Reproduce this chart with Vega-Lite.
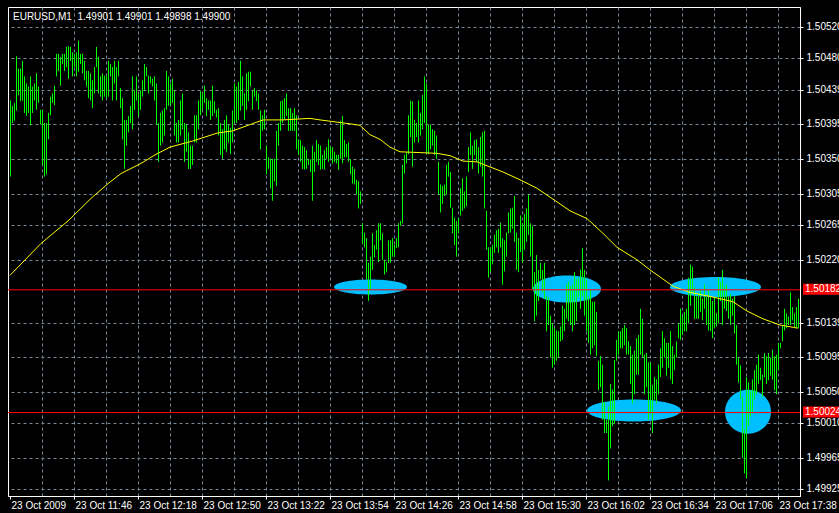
{
"$schema":"https://vega.github.io/schema/vega-lite/v6.json",
"width":792,"height":489,
"autosize":{"type":"none"},
"padding":{"left":8,"top":7,"right":39,"bottom":17},
"background":"#000000",
"title":{"text":"EURUSD,M1\u00a0 1.49901 1.49901 1.49898 1.49900","anchor":"start","frame":"group","orient":"top","color":"#ffffff","font":"Liberation Sans","fontSize":10,"fontWeight":"normal","offset":0,"baseline":"top","dx":5,"dy":15},
"config":{"view":{"stroke":"#ffffff","strokeWidth":1,"fill":"#000000"},"axis":{"labelFont":"Liberation Sans","labelFontSize":10,"labelColor":"#ffffff","domainColor":"#ffffff","tickColor":"#ffffff","gridColor":"#778899","gridDash":[3,3],"gridWidth":1,"title":null,"labelOverlap":false}},
"datasets":{
"levels":[{"level":1.50182},{"level":1.50024}],
"ma":[{"t":0,"ma":1.50200},{"t":15.5,"ma":1.50241},{"t":29,"ma":1.50270},{"t":40.5,"ma":1.50299},{"t":49,"ma":1.50318},{"t":55.5,"ma":1.50331},{"t":65.5,"ma":1.50344},{"t":72.5,"ma":1.50355},{"t":80,"ma":1.50365},{"t":91.5,"ma":1.50373},{"t":103.5,"ma":1.50383},{"t":111.5,"ma":1.50386},{"t":120,"ma":1.50394},{"t":126.5,"ma":1.50400},{"t":136.5,"ma":1.50400},{"t":150,"ma":1.50402},{"t":155,"ma":1.50400},{"t":170,"ma":1.50395},{"t":175,"ma":1.50393},{"t":180,"ma":1.50381},{"t":185,"ma":1.50375},{"t":190,"ma":1.50365},{"t":195,"ma":1.50359},{"t":213.5,"ma":1.50357},{"t":220,"ma":1.50354},{"t":226.5,"ma":1.50347},{"t":233.5,"ma":1.50346},{"t":246.5,"ma":1.50333},{"t":255,"ma":1.50323},{"t":263.5,"ma":1.50312},{"t":271.5,"ma":1.50298},{"t":280,"ma":1.50283},{"t":288.5,"ma":1.50273},{"t":296.5,"ma":1.50254},{"t":303.5,"ma":1.50236},{"t":313.5,"ma":1.50220},{"t":320,"ma":1.50207},{"t":331.5,"ma":1.50186},{"t":340,"ma":1.50178},{"t":351.5,"ma":1.50172},{"t":361.5,"ma":1.50166},{"t":368.5,"ma":1.50154},{"t":376.5,"ma":1.50144},{"t":385,"ma":1.50136},{"t":394,"ma":1.50132}],
"bars":[
{"t":0,"h":1.50425,"l":1.50327},{"t":1,"h":1.50418,"l":1.50396},{"t":2,"h":1.50422,"l":1.50399},{"t":3,"h":1.50482,"l":1.50412},{"t":4,"h":1.50466,"l":1.50432},{"t":5,"h":1.50466,"l":1.50424},{"t":6,"h":1.50476,"l":1.50425},{"t":7,"h":1.50456,"l":1.50409},{"t":8,"h":1.50447,"l":1.50405},{"t":9,"h":1.50443,"l":1.50409},
{"t":10,"h":1.50456,"l":1.50393},{"t":11,"h":1.50443,"l":1.50409},{"t":12,"h":1.50447,"l":1.50425},{"t":13,"h":1.50460,"l":1.50413},{"t":14,"h":1.50443,"l":1.50422},{"t":15,"h":1.50413,"l":1.50394},{"t":16,"h":1.50413,"l":1.50342},{"t":17,"h":1.50396,"l":1.50327},{"t":18,"h":1.50396,"l":1.50330},{"t":19,"h":1.50409,"l":1.50375},
{"t":20,"h":1.50430,"l":1.50406},{"t":21,"h":1.50434,"l":1.50422},{"t":22,"h":1.50444,"l":1.50419},{"t":23,"h":1.50485,"l":1.50456},{"t":24,"h":1.50485,"l":1.50463},{"t":25,"h":1.50481,"l":1.50444},{"t":26,"h":1.50485,"l":1.50472},{"t":27,"h":1.50485,"l":1.50463},{"t":28,"h":1.50494,"l":1.50468},{"t":29,"h":1.50495,"l":1.50453},
{"t":30,"h":1.50494,"l":1.50476},{"t":31,"h":1.50487,"l":1.50456},{"t":32,"h":1.50485,"l":1.50468},{"t":33,"h":1.50487,"l":1.50456},{"t":34,"h":1.50502,"l":1.50462},{"t":35,"h":1.50485,"l":1.50472},{"t":36,"h":1.50485,"l":1.50460},{"t":37,"h":1.50476,"l":1.50451},{"t":38,"h":1.50463,"l":1.50443},{"t":39,"h":1.50463,"l":1.50428},
{"t":40,"h":1.50460,"l":1.50425},{"t":41,"h":1.50451,"l":1.50415},{"t":42,"h":1.50468,"l":1.50434},{"t":43,"h":1.50494,"l":1.50468},{"t":44,"h":1.50481,"l":1.50434},{"t":45,"h":1.50456,"l":1.50430},{"t":46,"h":1.50460,"l":1.50425},{"t":47,"h":1.50457,"l":1.50430},{"t":48,"h":1.50456,"l":1.50428},{"t":49,"h":1.50476,"l":1.50430},
{"t":50,"h":1.50472,"l":1.50456},{"t":51,"h":1.50468,"l":1.50425},{"t":52,"h":1.50476,"l":1.50447},{"t":53,"h":1.50468,"l":1.50425},{"t":54,"h":1.50476,"l":1.50456},{"t":55,"h":1.50441,"l":1.50415},{"t":56,"h":1.50428,"l":1.50375},{"t":57,"h":1.50400,"l":1.50337},{"t":58,"h":1.50400,"l":1.50367},{"t":59,"h":1.50405,"l":1.50384},
{"t":60,"h":1.50418,"l":1.50396},{"t":61,"h":1.50456,"l":1.50388},{"t":62,"h":1.50438,"l":1.50413},{"t":63,"h":1.50456,"l":1.50425},{"t":64,"h":1.50434,"l":1.50405},{"t":65,"h":1.50438,"l":1.50413},{"t":66,"h":1.50451,"l":1.50430},{"t":67,"h":1.50472,"l":1.50438},{"t":68,"h":1.50468,"l":1.50456},{"t":69,"h":1.50457,"l":1.50434},
{"t":70,"h":1.50456,"l":1.50447},{"t":71,"h":1.50453,"l":1.50443},{"t":72,"h":1.50456,"l":1.50425},{"t":73,"h":1.50447,"l":1.50394},{"t":74,"h":1.50396,"l":1.50346},{"t":75,"h":1.50409,"l":1.50367},{"t":76,"h":1.50412,"l":1.50371},{"t":77,"h":1.50415,"l":1.50380},{"t":78,"h":1.50463,"l":1.50413},{"t":79,"h":1.50456,"l":1.50418},
{"t":80,"h":1.50447,"l":1.50419},{"t":81,"h":1.50453,"l":1.50422},{"t":82,"h":1.50438,"l":1.50380},{"t":83,"h":1.50396,"l":1.50371},{"t":84,"h":1.50400,"l":1.50371},{"t":85,"h":1.50425,"l":1.50380},{"t":86,"h":1.50434,"l":1.50388},{"t":87,"h":1.50396,"l":1.50346},{"t":88,"h":1.50394,"l":1.50359},{"t":89,"h":1.50384,"l":1.50337},
{"t":90,"h":1.50367,"l":1.50337},{"t":91,"h":1.50367,"l":1.50342},{"t":92,"h":1.50406,"l":1.50371},{"t":93,"h":1.50406,"l":1.50371},{"t":94,"h":1.50425,"l":1.50388},{"t":95,"h":1.50437,"l":1.50406},{"t":96,"h":1.50434,"l":1.50413},{"t":97,"h":1.50444,"l":1.50422},{"t":98,"h":1.50428,"l":1.50405},{"t":99,"h":1.50425,"l":1.50413},
{"t":100,"h":1.50425,"l":1.50400},{"t":101,"h":1.50444,"l":1.50405},{"t":102,"h":1.50424,"l":1.50409},{"t":103,"h":1.50413,"l":1.50403},{"t":104,"h":1.50415,"l":1.50380},{"t":105,"h":1.50396,"l":1.50355},{"t":106,"h":1.50388,"l":1.50350},{"t":107,"h":1.50400,"l":1.50362},{"t":108,"h":1.50406,"l":1.50359},{"t":109,"h":1.50394,"l":1.50371},
{"t":110,"h":1.50390,"l":1.50356},{"t":111,"h":1.50412,"l":1.50371},{"t":112,"h":1.50447,"l":1.50396},{"t":113,"h":1.50443,"l":1.50396},{"t":114,"h":1.50449,"l":1.50400},{"t":115,"h":1.50476,"l":1.50412},{"t":116,"h":1.50456,"l":1.50418},{"t":117,"h":1.50434,"l":1.50400},{"t":118,"h":1.50460,"l":1.50413},{"t":119,"h":1.50462,"l":1.50424},
{"t":120,"h":1.50462,"l":1.50443},{"t":121,"h":1.50438,"l":1.50413},{"t":122,"h":1.50441,"l":1.50430},{"t":123,"h":1.50438,"l":1.50424},{"t":124,"h":1.50434,"l":1.50413},{"t":125,"h":1.50412,"l":1.50362},{"t":126,"h":1.50406,"l":1.50386},{"t":127,"h":1.50413,"l":1.50388},{"t":128,"h":1.50367,"l":1.50330},{"t":129,"h":1.50352,"l":1.50337},
{"t":130,"h":1.50350,"l":1.50312},{"t":131,"h":1.50350,"l":1.50296},{"t":132,"h":1.50350,"l":1.50321},{"t":133,"h":1.50386,"l":1.50315},{"t":134,"h":1.50396,"l":1.50367},{"t":135,"h":1.50424,"l":1.50386},{"t":136,"h":1.50425,"l":1.50396},{"t":137,"h":1.50428,"l":1.50400},{"t":138,"h":1.50434,"l":1.50405},{"t":139,"h":1.50415,"l":1.50386},
{"t":140,"h":1.50415,"l":1.50386},{"t":141,"h":1.50409,"l":1.50386},{"t":142,"h":1.50415,"l":1.50386},{"t":143,"h":1.50406,"l":1.50362},{"t":144,"h":1.50375,"l":1.50355},{"t":145,"h":1.50374,"l":1.50346},{"t":146,"h":1.50367,"l":1.50337},{"t":147,"h":1.50365,"l":1.50336},{"t":148,"h":1.50361,"l":1.50337},{"t":149,"h":1.50350,"l":1.50342},
{"t":150,"h":1.50349,"l":1.50333},{"t":151,"h":1.50367,"l":1.50296},{"t":152,"h":1.50359,"l":1.50333},{"t":153,"h":1.50374,"l":1.50346},{"t":154,"h":1.50369,"l":1.50342},{"t":155,"h":1.50367,"l":1.50336},{"t":156,"h":1.50355,"l":1.50337},{"t":157,"h":1.50361,"l":1.50336},{"t":158,"h":1.50365,"l":1.50350},{"t":159,"h":1.50375,"l":1.50346},
{"t":160,"h":1.50365,"l":1.50350},{"t":161,"h":1.50365,"l":1.50344},{"t":162,"h":1.50359,"l":1.50346},{"t":163,"h":1.50355,"l":1.50344},{"t":164,"h":1.50355,"l":1.50336},{"t":165,"h":1.50399,"l":1.50350},{"t":166,"h":1.50405,"l":1.50344},{"t":167,"h":1.50374,"l":1.50352},{"t":168,"h":1.50369,"l":1.50352},{"t":169,"h":1.50371,"l":1.50346},
{"t":170,"h":1.50349,"l":1.50330},{"t":171,"h":1.50340,"l":1.50318},{"t":172,"h":1.50337,"l":1.50317},{"t":173,"h":1.50323,"l":1.50304},{"t":174,"h":1.50321,"l":1.50286},{"t":175,"h":1.50308,"l":1.50292},{"t":176,"h":1.50267,"l":1.50241},{"t":177,"h":1.50255,"l":1.50236},{"t":178,"h":1.50248,"l":1.50195},{"t":179,"h":1.50216,"l":1.50167},
{"t":180,"h":1.50224,"l":1.50182},{"t":181,"h":1.50254,"l":1.50207},{"t":182,"h":1.50239,"l":1.50223},{"t":183,"h":1.50258,"l":1.50233},{"t":184,"h":1.50267,"l":1.50217},{"t":185,"h":1.50267,"l":1.50245},{"t":186,"h":1.50254,"l":1.50220},{"t":187,"h":1.50220,"l":1.50201},{"t":188,"h":1.50217,"l":1.50204},{"t":189,"h":1.50245,"l":1.50216},
{"t":190,"h":1.50245,"l":1.50216},{"t":191,"h":1.50248,"l":1.50224},{"t":192,"h":1.50239,"l":1.50224},{"t":193,"h":1.50248,"l":1.50235},{"t":194,"h":1.50267,"l":1.50236},{"t":195,"h":1.50270,"l":1.50264},{"t":196,"h":1.50342,"l":1.50267},{"t":197,"h":1.50355,"l":1.50331},{"t":198,"h":1.50359,"l":1.50344},{"t":199,"h":1.50406,"l":1.50356},
{"t":200,"h":1.50425,"l":1.50378},{"t":201,"h":1.50424,"l":1.50340},{"t":202,"h":1.50400,"l":1.50371},{"t":203,"h":1.50396,"l":1.50378},{"t":204,"h":1.50425,"l":1.50371},{"t":205,"h":1.50409,"l":1.50380},{"t":206,"h":1.50432,"l":1.50388},{"t":207,"h":1.50456,"l":1.50396},{"t":208,"h":1.50447,"l":1.50356},{"t":209,"h":1.50394,"l":1.50356},
{"t":210,"h":1.50394,"l":1.50362},{"t":211,"h":1.50388,"l":1.50367},{"t":212,"h":1.50386,"l":1.50355},{"t":213,"h":1.50380,"l":1.50350},{"t":214,"h":1.50346,"l":1.50304},{"t":215,"h":1.50317,"l":1.50281},{"t":216,"h":1.50315,"l":1.50292},{"t":217,"h":1.50317,"l":1.50302},{"t":218,"h":1.50342,"l":1.50304},{"t":219,"h":1.50346,"l":1.50327},
{"t":220,"h":1.50333,"l":1.50287},{"t":221,"h":1.50287,"l":1.50254},{"t":222,"h":1.50274,"l":1.50239},{"t":223,"h":1.50270,"l":1.50224},{"t":224,"h":1.50274,"l":1.50254},{"t":225,"h":1.50312,"l":1.50277},{"t":226,"h":1.50325,"l":1.50283},{"t":227,"h":1.50308,"l":1.50286},{"t":228,"h":1.50327,"l":1.50289},{"t":229,"h":1.50365,"l":1.50333},
{"t":230,"h":1.50384,"l":1.50355},{"t":231,"h":1.50367,"l":1.50337},{"t":232,"h":1.50374,"l":1.50355},{"t":233,"h":1.50375,"l":1.50346},{"t":234,"h":1.50365,"l":1.50331},{"t":235,"h":1.50378,"l":1.50340},{"t":236,"h":1.50384,"l":1.50327},{"t":237,"h":1.50386,"l":1.50286},{"t":238,"h":1.50283,"l":1.50233},{"t":239,"h":1.50236,"l":1.50197},
{"t":240,"h":1.50236,"l":1.50204},{"t":241,"h":1.50239,"l":1.50214},{"t":242,"h":1.50252,"l":1.50229},{"t":243,"h":1.50258,"l":1.50236},{"t":244,"h":1.50260,"l":1.50229},{"t":245,"h":1.50268,"l":1.50236},{"t":246,"h":1.50248,"l":1.50188},{"t":247,"h":1.50245,"l":1.50205},{"t":248,"h":1.50255,"l":1.50224},{"t":249,"h":1.50281,"l":1.50254},
{"t":250,"h":1.50286,"l":1.50255},{"t":251,"h":1.50287,"l":1.50260},{"t":252,"h":1.50302,"l":1.50243},{"t":253,"h":1.50255,"l":1.50207},{"t":254,"h":1.50248,"l":1.50204},{"t":255,"h":1.50277,"l":1.50230},{"t":256,"h":1.50267,"l":1.50216},{"t":257,"h":1.50279,"l":1.50233},{"t":258,"h":1.50286,"l":1.50243},{"t":259,"h":1.50304,"l":1.50252},
{"t":260,"h":1.50267,"l":1.50224},{"t":261,"h":1.50264,"l":1.50182},{"t":262,"h":1.50204,"l":1.50141},{"t":263,"h":1.50226,"l":1.50148},{"t":264,"h":1.50207,"l":1.50167},{"t":265,"h":1.50216,"l":1.50195},{"t":266,"h":1.50207,"l":1.50178},{"t":267,"h":1.50216,"l":1.50170},{"t":268,"h":1.50173,"l":1.50128},{"t":269,"h":1.50172,"l":1.50136},
{"t":270,"h":1.50148,"l":1.50094},{"t":271,"h":1.50138,"l":1.50081},{"t":272,"h":1.50132,"l":1.50085},{"t":273,"h":1.50129,"l":1.50090},{"t":274,"h":1.50128,"l":1.50094},{"t":275,"h":1.50134,"l":1.50115},{"t":276,"h":1.50161,"l":1.50117},{"t":277,"h":1.50157,"l":1.50128},{"t":278,"h":1.50188,"l":1.50144},{"t":279,"h":1.50192,"l":1.50141},
{"t":280,"h":1.50186,"l":1.50136},{"t":281,"h":1.50188,"l":1.50128},{"t":282,"h":1.50204,"l":1.50136},{"t":283,"h":1.50195,"l":1.50141},{"t":284,"h":1.50197,"l":1.50172},{"t":285,"h":1.50207,"l":1.50157},{"t":286,"h":1.50235,"l":1.50173},{"t":287,"h":1.50207,"l":1.50148},{"t":288,"h":1.50195,"l":1.50128},{"t":289,"h":1.50173,"l":1.50113},
{"t":290,"h":1.50182,"l":1.50098},{"t":291,"h":1.50166,"l":1.50106},{"t":292,"h":1.50166,"l":1.50110},{"t":293,"h":1.50153,"l":1.50096},{"t":294,"h":1.50090,"l":1.50052},{"t":295,"h":1.50096,"l":1.50056},{"t":296,"h":1.50085,"l":1.50014},{"t":297,"h":1.50037,"l":1.49997},{"t":298,"h":1.50014,"l":1.49997},{"t":299,"h":1.50031,"l":1.49936},
{"t":300,"h":1.50060,"l":1.49977},{"t":301,"h":1.50053,"l":1.50006},{"t":302,"h":1.50091,"l":1.50009},{"t":303,"h":1.50117,"l":1.50090},{"t":304,"h":1.50128,"l":1.50098},{"t":305,"h":1.50128,"l":1.50106},{"t":306,"h":1.50132,"l":1.50106},{"t":307,"h":1.50136,"l":1.50110},{"t":308,"h":1.50132,"l":1.50098},{"t":309,"h":1.50115,"l":1.50098},
{"t":310,"h":1.50109,"l":1.50060},{"t":311,"h":1.50098,"l":1.50035},{"t":312,"h":1.50103,"l":1.50047},{"t":313,"h":1.50119,"l":1.50072},{"t":314,"h":1.50123,"l":1.50072},{"t":315,"h":1.50157,"l":1.50098},{"t":316,"h":1.50144,"l":1.50094},{"t":317,"h":1.50098,"l":1.50047},{"t":318,"h":1.50100,"l":1.50056},{"t":319,"h":1.50088,"l":1.50014},
{"t":320,"h":1.50088,"l":1.50022},{"t":321,"h":1.50059,"l":1.49997},{"t":322,"h":1.50069,"l":1.50040},{"t":323,"h":1.50066,"l":1.50035},{"t":324,"h":1.50085,"l":1.50047},{"t":325,"h":1.50106,"l":1.50069},{"t":326,"h":1.50128,"l":1.50081},{"t":327,"h":1.50119,"l":1.50094},{"t":328,"h":1.50113,"l":1.50071},{"t":329,"h":1.50113,"l":1.50081},
{"t":330,"h":1.50128,"l":1.50066},{"t":331,"h":1.50109,"l":1.50060},{"t":332,"h":1.50098,"l":1.50078},{"t":333,"h":1.50115,"l":1.50094},{"t":334,"h":1.50138,"l":1.50119},{"t":335,"h":1.50157,"l":1.50117},{"t":336,"h":1.50148,"l":1.50123},{"t":337,"h":1.50153,"l":1.50128},{"t":338,"h":1.50157,"l":1.50128},{"t":339,"h":1.50197,"l":1.50138},
{"t":340,"h":1.50214,"l":1.50161},{"t":341,"h":1.50211,"l":1.50178},{"t":342,"h":1.50185,"l":1.50144},{"t":343,"h":1.50173,"l":1.50144},{"t":344,"h":1.50178,"l":1.50144},{"t":345,"h":1.50182,"l":1.50153},{"t":346,"h":1.50170,"l":1.50142},{"t":347,"h":1.50188,"l":1.50157},{"t":348,"h":1.50172,"l":1.50136},{"t":349,"h":1.50182,"l":1.50129},
{"t":350,"h":1.50173,"l":1.50128},{"t":351,"h":1.50167,"l":1.50119},{"t":352,"h":1.50173,"l":1.50132},{"t":353,"h":1.50151,"l":1.50134},{"t":354,"h":1.50197,"l":1.50138},{"t":355,"h":1.50191,"l":1.50167},{"t":356,"h":1.50207,"l":1.50136},{"t":357,"h":1.50185,"l":1.50157},{"t":358,"h":1.50188,"l":1.50154},{"t":359,"h":1.50173,"l":1.50144},
{"t":360,"h":1.50176,"l":1.50136},{"t":361,"h":1.50170,"l":1.50148},{"t":362,"h":1.50173,"l":1.50125},{"t":363,"h":1.50136,"l":1.50085},{"t":364,"h":1.50094,"l":1.50062},{"t":365,"h":1.50084,"l":1.50041},{"t":366,"h":1.50043,"l":1.49965},{"t":367,"h":1.50002,"l":1.49945},{"t":368,"h":1.50069,"l":1.49939},{"t":369,"h":1.50062,"l":1.50006},
{"t":370,"h":1.50052,"l":1.50018},{"t":371,"h":1.50066,"l":1.50022},{"t":372,"h":1.50078,"l":1.50040},{"t":373,"h":1.50085,"l":1.50047},{"t":374,"h":1.50098,"l":1.50060},{"t":375,"h":1.50081,"l":1.50065},{"t":376,"h":1.50072,"l":1.50043},{"t":377,"h":1.50100,"l":1.50069},{"t":378,"h":1.50096,"l":1.50060},{"t":379,"h":1.50100,"l":1.50065},
{"t":380,"h":1.50094,"l":1.50071},{"t":381,"h":1.50104,"l":1.50066},{"t":382,"h":1.50096,"l":1.50052},{"t":383,"h":1.50098,"l":1.50047},{"t":384,"h":1.50113,"l":1.50078},{"t":385,"h":1.50113,"l":1.50106},{"t":386,"h":1.50136,"l":1.50115},{"t":387,"h":1.50157,"l":1.50129},{"t":388,"h":1.50151,"l":1.50132},{"t":389,"h":1.50147,"l":1.50136},
{"t":390,"h":1.50178,"l":1.50136},{"t":391,"h":1.50159,"l":1.50142},{"t":392,"h":1.50151,"l":1.50132},{"t":393,"h":1.50159,"l":1.50132},{"t":394,"h":1.50170,"l":1.50132}
]},
"layer":[
{"data":{"values":[{}]},"mark":{"type":"point","shape":"M-1,0C-1,-0.113,-0.552,-0.205,0,-0.205C0.552,-0.205,1,-0.113,1,0C1,0.113,0.552,0.205,0,0.205C-0.552,0.205,-1,0.113,-1,0Z","size":5329,"filled":true,"color":"#00bfff","opacity":1,"strokeWidth":0},"encoding":{"x":{"datum":180.25},"y":{"datum":1.50185}}},
{"data":{"values":[{}]},"mark":{"type":"point","shape":"M-1,0C-1,-0.219,-0.552,-0.397,0,-0.397C0.552,-0.397,1,-0.219,1,0C1,0.219,0.552,0.397,0,0.397C-0.552,0.397,-1,0.219,-1,0Z","size":4624,"filled":true,"color":"#00bfff","opacity":1,"strokeWidth":0},"encoding":{"x":{"datum":278.5},"y":{"datum":1.501825}}},
{"data":{"values":[{}]},"mark":{"type":"point","shape":"M-1,0C-1,-0.1215,-0.552,-0.22,0,-0.22C0.552,-0.22,1,-0.1215,1,0C1,0.1215,0.552,0.22,0,0.22C-0.552,0.22,-1,0.1215,-1,0Z","size":8281,"filled":true,"color":"#00bfff","opacity":1,"strokeWidth":0},"encoding":{"x":{"datum":352.75},"y":{"datum":1.50185}}},
{"data":{"values":[{}]},"mark":{"type":"point","shape":"M-1,0C-1,-0.129,-0.552,-0.234,0,-0.234C0.552,-0.234,1,-0.129,1,0C1,0.129,0.552,0.234,0,0.234C-0.552,0.234,-1,0.129,-1,0Z","size":8836,"filled":true,"color":"#00bfff","opacity":1,"strokeWidth":0},"encoding":{"x":{"datum":312},"y":{"datum":1.50026}}},
{"data":{"values":[{}]},"mark":{"type":"point","shape":"M-1,0C-1,-0.528,-0.552,-0.957,0,-0.957C0.552,-0.957,1,-0.528,1,0C1,0.528,0.552,0.957,0,0.957C-0.552,0.957,-1,0.528,-1,0Z","size":2116,"filled":true,"color":"#00bfff","opacity":1,"strokeWidth":0},"encoding":{"x":{"datum":369},"y":{"datum":1.500245}}},
{"data":{"name":"bars"},"mark":{"type":"rule","color":"#00ff00","strokeWidth":1,"xOffset":0.5,"strokeCap":"butt"},
 "encoding":{
  "x":{"field":"t","type":"quantitative","scale":{"domain":[-1,395],"nice":false,"zero":false},
   "axis":{"orient":"bottom","tickCount":100,"values":[0,16,32,48,64,80,96,112,128,144,160,176,192,208,224,240,256,272,288,304,320,336,352,368,384],
     "labelExpr":"datum.value % 32 != 0 ? '' : (datum.value == 0 ? '23 Oct 2009' : '23 Oct ' + floor((674 + datum.value) / 60) + ':' + (((674 + datum.value) % 60) < 10 ? '0' : '') + ((674 + datum.value) % 60))",
     "labelAlign":"left","labelBaseline":"top","labelOffset":1,"labelPadding":1,"tickSize":3,"labelOverlap":false,"labelFlush":false,"labelBound":false,"grid":true,"domain":true,
     "gridOpacity":{"condition":{"test":"datum.value == 0","value":0},"value":1},
     "tickOpacity":{"condition":{"test":"datum.value % 32 == 0","value":1},"value":0}}},
  "y":{"field":"l","type":"quantitative","scale":{"domain":[1.499224,1.505389],"nice":false,"zero":false},
   "axis":{"orient":"right","tickCount":100,"values":[1.49925,1.49965,1.5001,1.5005,1.50095,1.50139,1.5022,1.50265,1.50305,1.5035,1.50395,1.50439,1.5048,1.5052],
     "format":".5f","tickSize":3,"labelPadding":3,"labelAlign":"left","labelBaseline":"middle","labelOverlap":false,"labelBound":false,"labelFlush":false,"grid":true,"domain":true}},
  "y2":{"field":"h"}}},
{"data":{"name":"ma"},"mark":{"type":"line","color":"#ffff00","strokeWidth":1},"encoding":{"x":{"field":"t","type":"quantitative"},"y":{"field":"ma","type":"quantitative"}}},
{"data":{"name":"levels"},"mark":{"type":"rule","color":"#ff0000","strokeWidth":1,"yOffset":0.5},"encoding":{"y":{"field":"level","type":"quantitative"}}},
{"data":{"name":"levels"},"mark":{"type":"bar","color":"#ff0000","height":11,"clip":false},"encoding":{"x":{"datum":396.5},"x2":{"datum":416},"y":{"field":"level","type":"quantitative"}}},
{"data":{"name":"levels"},"mark":{"type":"text","color":"#ffffff","align":"left","baseline":"middle","font":"Liberation Sans","fontSize":10},"encoding":{"x":{"datum":397.5},"y":{"field":"level","type":"quantitative"},"text":{"field":"level","type":"quantitative","format":".5f"}}}
]
}
